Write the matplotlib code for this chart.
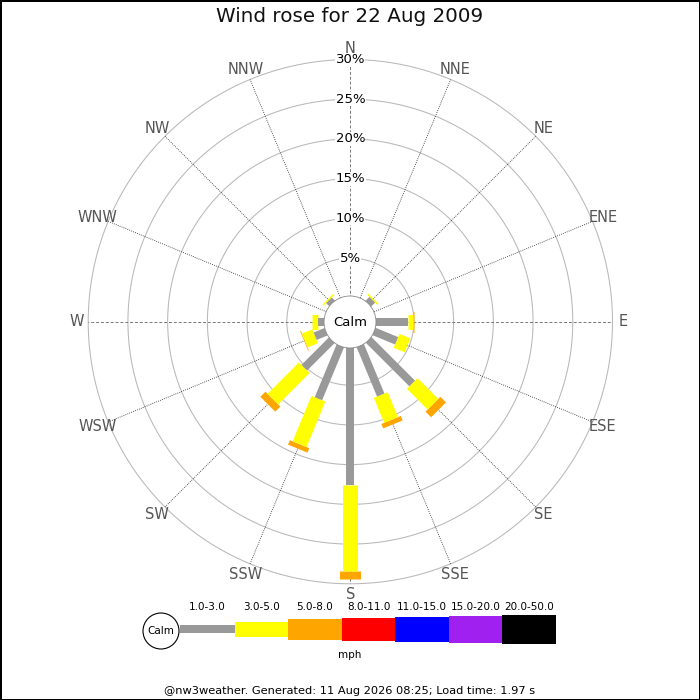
import numpy as np
import matplotlib
matplotlib.use("Agg")
import matplotlib.pyplot as plt
from matplotlib.patches import Circle

# Wind rose data: percentage of time per direction and speed bin (mph)
directions = ['N', 'NNE', 'NE', 'ENE', 'E', 'ESE', 'SE', 'SSE',
              'S', 'SSW', 'SW', 'WSW', 'W', 'WNW', 'NW', 'NNW']
pct_1_3 = [0.0, 0.0, 0.9, 0.0, 4.2, 3.3, 8.0, 7.0, 17.5, 7.5, 5.2, 1.8, 1.1, 0.0, 0.8, 0.0]
pct_3_5 = [0.0, 0.0, 0.2, 0.0, 0.7, 1.5, 3.7, 3.4, 10.9, 6.2, 5.6, 1.4, 0.7, 0.0, 0.2, 0.0]
pct_5_8 = [0.0, 0.0, 0.0, 0.0, 0.1, 0.0, 1.0, 0.6, 1.0, 0.6, 0.9, 0.1, 0.0, 0.0, 0.0, 0.0]

speed_bins = ['1.0-3.0', '3.0-5.0', '5.0-8.0', '8.0-11.0', '11.0-15.0', '15.0-20.0', '20.0-50.0']
bin_colors = ['#999999', '#ffff00', '#ffa500', '#ff0000', '#0000ff', '#a020f0', '#000000']
bin_px = [8, 15, 21, 23, 25, 27, 29]  # bar thickness in pixels

rings = [5, 10, 15, 20, 25, 30]

fig = plt.figure(figsize=(7, 7), dpi=100)
fig.patch.set_edgecolor('black')
fig.patch.set_linewidth(2)

ax = fig.add_axes([0.126, 0.166, 0.749, 0.749], projection='polar')
ax.patch.set_alpha(0)
ax.set_theta_zero_location('N')
ax.set_theta_direction(-1)
ax.set_ylim(0, 30)
ax.set_rorigin(-3.0)
ax.grid(False)
ax.set_xticks([])
ax.set_yticks([])
for sp in ax.spines.values():
    sp.set_visible(False)

theta_full = np.linspace(0, 2 * np.pi, 400)
for r in rings:
    ax.plot(theta_full, np.full_like(theta_full, r), color='#b8b8b8', lw=0.75,
            zorder=1, clip_on=False)

angles = np.deg2rad(np.arange(16) * 22.5)
for i, a in enumerate(angles):
    if i % 4 == 0:
        ax.plot([a, a], [0, 30], color='#777777', lw=0.7, ls=(0, (3, 2)), zorder=1)
    else:
        ax.plot([a, a], [0, 30], color='#222222', lw=0.6, ls=(0, (1, 1.5)), zorder=1)
    ax.text(a, 31.4, directions[i], ha='center', va='center', fontsize=10.5,
            color='#555555', clip_on=False)

for r in rings:
    ax.text(0, r, f'{r}%', ha='center', va='center', fontsize=9.5, color='black',
            bbox=dict(facecolor='white', edgecolor='none', pad=0.3), zorder=3)

px2pt = 72 / fig.dpi
series = [pct_1_3, pct_3_5, pct_5_8]
for i, a in enumerate(angles):
    base = 0.0
    for k, s in enumerate(series):
        v = s[i]
        if v > 0:
            ax.plot([a, a], [base, base + v], color=bin_colors[k],
                    lw=bin_px[k] * px2pt, solid_capstyle='butt', zorder=4 - k * 0.1)
        base += v

# overlay axes in pixel coordinates for calm circle, legend and footer
lax = fig.add_axes([0, 0, 1, 1], zorder=5)
lax.patch.set_alpha(0)
lax.set_xlim(0, 700)
lax.set_ylim(700, 0)
lax.axis('off')

lax.add_patch(Circle((350, 322), 26, facecolor='white', edgecolor='#888888', lw=0.6))
lax.text(350, 322, 'Calm', ha='center', va='center', fontsize=9.5)

fig.text(0.5, 1 - 17 / 700, 'Wind rose for 22 Aug 2009', ha='center', va='center',
         fontsize=14.3, color='#111111')

# legend
lax.add_patch(Circle((161, 631), 18, facecolor='white', edgecolor='black', lw=0.8))
lax.text(161, 631, 'Calm', ha='center', va='center', fontsize=7.5)
seg_left = [180, 235, 288, 342, 395, 449, 502]
seg_w = [55, 53, 54, 53, 54, 53, 54]
for k in range(len(speed_bins)):
    lax.bar(seg_left[k], bin_px[k], width=seg_w[k], bottom=629 - bin_px[k] / 2,
            align='edge', color=bin_colors[k], edgecolor='none')
    lax.text(seg_left[k] + seg_w[k] / 2, 607, speed_bins[k], ha='center', va='center',
             fontsize=7.5)
lax.text(350, 655, 'mph', ha='center', va='center', fontsize=7.5)

lax.text(350, 691, '@nw3weather. Generated: 11 Aug 2026 08:25; Load time: 1.97 s',
         ha='center', va='center', fontsize=8.2)

fig.savefig('out.png', dpi=100, edgecolor=fig.get_edgecolor())
